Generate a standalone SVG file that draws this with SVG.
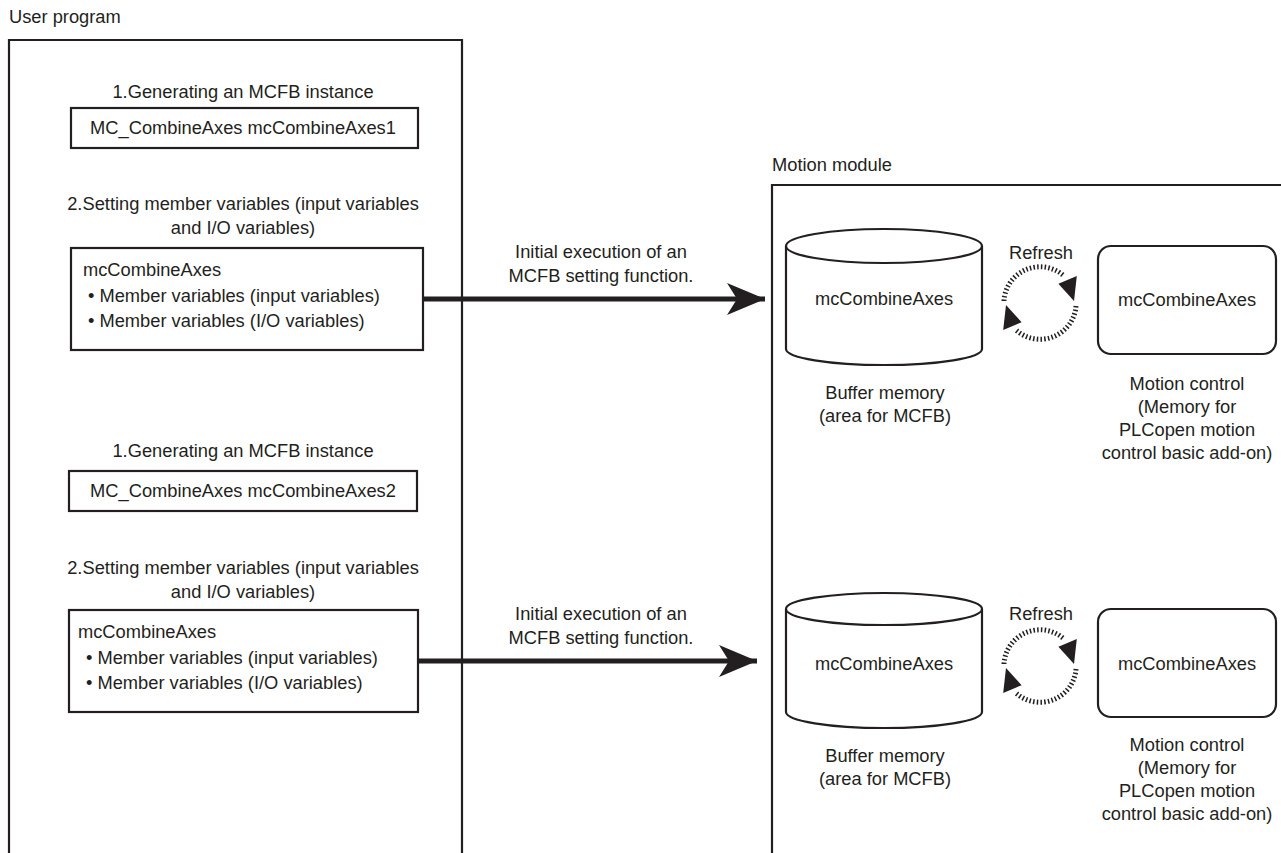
<svg xmlns="http://www.w3.org/2000/svg" width="1281" height="853" viewBox="0 0 1281 853">
<defs>
<style>
text{font-family:"Liberation Sans",Arial,sans-serif;font-size:18.3px;fill:#231f20}
.c{text-anchor:middle}
.frame{fill:none;stroke:#231f20;stroke-width:2.2}
.box{fill:#fff;stroke:#231f20;stroke-width:2.2}
.conn{stroke:#231f20;stroke-width:5;fill:none}
.dots{fill:none;stroke:#231f20;stroke-width:5;stroke-dasharray:1.5 2.2}
.head{fill:#231f20}
</style>
<marker id="ah" markerUnits="userSpaceOnUse" markerWidth="40" markerHeight="34" refX="38" refY="17" orient="auto">
<path d="M0,1 L38,17 L0,33 L10,17 Z" class="head"/>
</marker>
</defs>
<rect width="1281" height="853" fill="#fff"/>

<g id="user-program">
<text x="9" y="23">User program</text>
<path class="frame" d="M9,853 V40 H462 V853"/>
</g>

<g id="motion-module">
<text x="772" y="171">Motion module</text>
<path class="frame" d="M772,853 V185 H1281"/>
</g>

<g id="step1a">
<text class="c" x="243" y="98">1.Generating an MCFB instance</text>
</g>
<g id="instance1">
<rect class="box" x="71" y="108" width="347" height="40"/>
<text class="c" x="243" y="134">MC_CombineAxes mcCombineAxes1</text>
</g>
<g id="step2a">
<text class="c" x="243" y="210">2.Setting member variables (input variables</text>
<text class="c" x="243" y="234">and I/O variables)</text>
</g>
<g id="members1">
<rect class="box" x="71" y="248" width="352" height="102"/>
<text x="83" y="276">mcCombineAxes</text>
<text x="88" y="302">• Member variables (input variables)</text>
<text x="88" y="327">• Member variables (I/O variables)</text>
</g>

<g id="step1b">
<text class="c" x="243" y="457">1.Generating an MCFB instance</text>
</g>
<g id="instance2">
<rect class="box" x="69" y="471" width="348" height="40"/>
<text class="c" x="243" y="497">MC_CombineAxes mcCombineAxes2</text>
</g>
<g id="step2b">
<text class="c" x="243" y="574">2.Setting member variables (input variables</text>
<text class="c" x="243" y="598">and I/O variables)</text>
</g>
<g id="members2">
<rect class="box" x="69" y="610" width="349" height="102"/>
<text x="78" y="638">mcCombineAxes</text>
<text x="86" y="664">• Member variables (input variables)</text>
<text x="86" y="689">• Member variables (I/O variables)</text>
</g>

<g id="buffer1">
<path class="box" d="M786,246 V349 A98,16 0 0 0 982,349 V246"/>
<ellipse class="box" cx="884" cy="246" rx="98" ry="17"/>
<text class="c" x="884" y="305">mcCombineAxes</text>
<text class="c" x="885" y="399">Buffer memory</text>
<text class="c" x="885" y="422">(area for MCFB)</text>
</g>
<g id="buffer2">
<path class="box" d="M786,609 V712 A98,16 0 0 0 982,712 V609"/>
<ellipse class="box" cx="884" cy="609" rx="98" ry="16"/>
<text class="c" x="884" y="670">mcCombineAxes</text>
<text class="c" x="885" y="762">Buffer memory</text>
<text class="c" x="885" y="785">(area for MCFB)</text>
</g>

<g id="motion1">
<rect class="box" x="1098" y="246" width="178" height="108" rx="13"/>
<text class="c" x="1187" y="306">mcCombineAxes</text>
<text class="c" x="1187" y="390">Motion control</text>
<text class="c" x="1187" y="413">(Memory for</text>
<text class="c" x="1187" y="436">PLCopen motion</text>
<text class="c" x="1187" y="459">control basic add-on)</text>
</g>
<g id="motion2">
<rect class="box" x="1098" y="609" width="178" height="108" rx="13"/>
<text class="c" x="1187" y="670">mcCombineAxes</text>
<text class="c" x="1187" y="751">Motion control</text>
<text class="c" x="1187" y="774">(Memory for</text>
<text class="c" x="1187" y="797">PLCopen motion</text>
<text class="c" x="1187" y="820">control basic add-on)</text>
</g>

<g id="refresh1">
<text class="c" x="1041" y="259">Refresh</text>
<path class="dots" d="M1004,301 A36,36 0 0 1 1064,276"/>
<path class="dots" d="M1076,306 A36,36 0 0 1 1016,330"/>
<polygon class="head" points="1074,301 1058.4,283.7 1076.8,276.1"/>
<polygon class="head" points="1006,305 1021.6,322.3 1003.2,329.9"/>
</g>
<g id="refresh2">
<text class="c" x="1041" y="620">Refresh</text>
<path class="dots" d="M1004,664 A36,36 0 0 1 1064,639"/>
<path class="dots" d="M1076,669 A36,36 0 0 1 1016,693"/>
<polygon class="head" points="1074,664 1058.4,646.7 1076.8,639.1"/>
<polygon class="head" points="1006,668 1021.6,685.3 1003.2,692.9"/>
</g>

<g id="connectors">
<line class="conn" x1="423" y1="299" x2="765" y2="299" marker-end="url(#ah)"/>
<text class="c" x="601" y="258">Initial execution of an</text>
<text class="c" x="601" y="282">MCFB setting function.</text>
<line class="conn" x1="418" y1="661" x2="757" y2="661" marker-end="url(#ah)"/>
<text class="c" x="601" y="620">Initial execution of an</text>
<text class="c" x="601" y="644">MCFB setting function.</text>
</g>
</svg>
